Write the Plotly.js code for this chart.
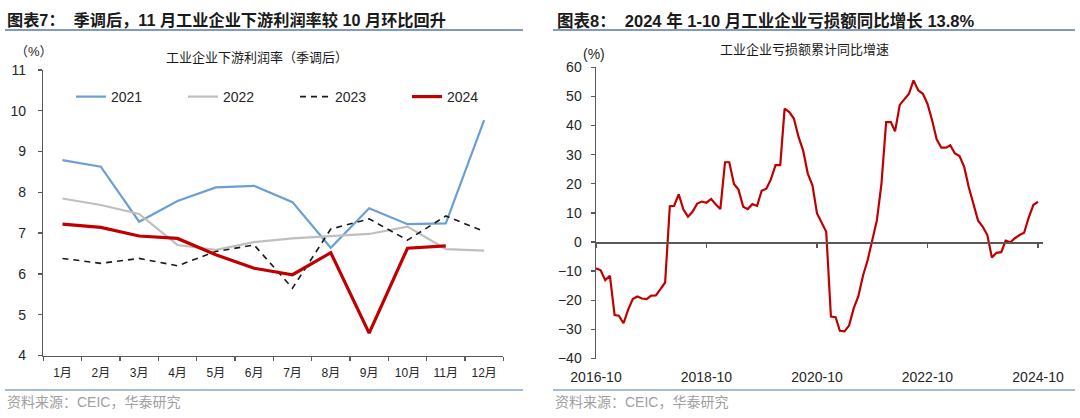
<!DOCTYPE html>
<html><head><meta charset="utf-8">
<script src="https://cdn.plot.ly/plotly-3.0.1.min.js"></script>
<style>html,body{margin:0;padding:0;background:#fff;}#chart{width:1080px;height:418px;}</style>
</head><body><div id="chart"></div>
<script>
// ---- Left chart data: downstream profit margin (seasonally adjusted), %
const months = ['1月','2月','3月','4月','5月','6月','7月','8月','9月','10月','11月','12月'];
const y2021 = [8.79, 8.63, 7.28, 7.79, 8.12, 8.16, 7.76, 6.64, 7.61, 7.22, 7.24, 9.77];
const y2022 = [7.85, 7.69, 7.47, 6.71, 6.59, 6.78, 6.87, 6.92, 6.98, 7.16, 6.61, 6.57];
const y2023 = [6.38, 6.26, 6.38, 6.20, 6.55, 6.71, 5.65, 7.10, 7.35, 6.83, 7.42, 7.04];
const y2024 = [7.22, 7.14, 6.93, 6.87, 6.47, 6.14, 5.98, 6.52, 4.55, 6.63, 6.69];
const seriesNames = ['2021','2022','2023','2024'];

// ---- Right chart data: cumulative YoY growth of industrial losses, %, monthly from 2016-10
const lossStartYear = 2016, lossStartMonth = 10;
const lossGrowth = [
  -9.0, -9.7, -13.1, -11.6, -25.1, -25.3, -27.9, -23.3, -19.6, -18.7, -19.4, -19.6,
  -18.4, -18.3, -16.2, -13.9, 12.3, 12.4, 16.4, 11.2, 8.7, 10.4, 13.2, 13.9,
  13.5, 14.8, 13.0, 11.3, 27.4, 27.4, 19.9, 18.0, 12.1, 11.3, 13.0, 12.4,
  17.6, 18.3, 21.5, 26.4, 26.4, 45.8, 44.6, 42.4, 36.1, 31.5, 23.5, 19.5,
  9.8, 6.4, 3.5, -25.6, -25.8, -30.5, -30.7, -28.7, -22.7, -18.7, -11.6, -6.2,
  0.1, 7.5, 20.0, 41.2, 41.2, 38.0, 47.1, 48.9, 50.9, 55.5, 52.1, 50.9,
  47.5, 41.8, 35.3, 32.4, 32.4, 33.2, 30.4, 29.5, 25.8, 18.9, 13.2, 7.3,
  5.3, 2.4, -5.3, -3.7, -3.5, 0.5, -0.1, 1.3, 2.4, 3.2, 8.5, 12.8,
  13.8
];
const lossTickVals = ['2016-10-01','2018-10-01','2020-10-01','2022-10-01','2024-10-01'];
const lossTickText = ['2016-10','2018-10','2020-10','2022-10','2024-10'];

const lossDates = lossGrowth.map((_, i) => {
  const t = lossStartYear * 12 + (lossStartMonth - 1) + i;
  const y = Math.floor(t / 12), m = t % 12 + 1;
  return y + '-' + String(m).padStart(2, '0') + '-01';
});

// ---- layout helpers (pixel -> paper)
const W = 1080, H = 418;
const px = x => x / W;
const py = y => 1 - y / H;
const FONT = 'Liberation Sans, Arial, Noto Sans CJK SC, sans-serif';
const TXT = '#262626';
const AX = '#595959';

const leftDomX = [px(43.3), px(503.3)];
const leftDomY = [py(355.5), py(70)];
const rightDomX = [px(596), px(1042.7)];
const rightDomY = [py(358.5), py(67.3)];
const rightYRange = [-40, 60];
const zeroPos = rightDomY[0] + (0 - rightYRange[0]) / (rightYRange[1] - rightYRange[0]) * (rightDomY[1] - rightDomY[0]);

const traces = [
  {x: months, y: y2021, name: seriesNames[0], type: 'scatter', mode: 'lines',
   line: {color: '#6b9fd3', width: 2.2}, xaxis: 'x', yaxis: 'y'},
  {x: months, y: y2022, name: seriesNames[1], type: 'scatter', mode: 'lines',
   line: {color: '#bfbfbf', width: 2.2}, xaxis: 'x', yaxis: 'y'},
  {x: months, y: y2023, name: seriesNames[2], type: 'scatter', mode: 'lines',
   line: {color: '#1a1a1a', width: 1.6, dash: '6px,5px'}, xaxis: 'x', yaxis: 'y'},
  {x: months.slice(0, y2024.length), y: y2024, name: seriesNames[3], type: 'scatter', mode: 'lines',
   line: {color: '#c00000', width: 3.2}, xaxis: 'x', yaxis: 'y'},
  {x: lossDates, y: lossGrowth, name: '亏损额累计同比', type: 'scatter', mode: 'lines',
   line: {color: '#c00000', width: 2.2}, xaxis: 'x2', yaxis: 'y2', showlegend: false},
  {x: [], y: [], type: 'scatter', mode: 'lines', xaxis: 'x3', yaxis: 'y2',
   showlegend: false, hoverinfo: 'skip'}
];

const ann = (text, x, y, opts) => Object.assign({
  text: text, x: px(x), y: py(y), xref: 'paper', yref: 'paper',
  showarrow: false, xanchor: 'left', yanchor: 'middle',
  font: {family: FONT, size: 13, color: TXT}
}, opts || {});

const layout = {
  width: W, height: H,
  margin: {l: 0, r: 0, t: 0, b: 0},
  paper_bgcolor: '#ffffff', plot_bgcolor: 'rgba(0,0,0,0)',
  font: {family: FONT, size: 14, color: TXT},
  showlegend: true,
  legend: {orientation: 'h', x: px(71), xanchor: 'left', y: py(97), yanchor: 'middle',
           bgcolor: 'rgba(0,0,0,0)', entrywidth: 67, entrywidthmode: 'pixels',
           font: {family: FONT, size: 14, color: TXT}, traceorder: 'normal'},
  xaxis: {domain: leftDomX, anchor: 'y', type: 'category', range: [-0.5, 11.5],
          showline: true, linecolor: AX, linewidth: 1.5, ticks: 'outside', tickson: 'boundaries',
          ticklen: 4, tickcolor: AX, tickwidth: 1.3, showgrid: false, zeroline: false,
          tickfont: {family: FONT, size: 12, color: TXT}, ticklabelstandoff: 6, fixedrange: true},
  yaxis: {domain: leftDomY, anchor: 'x', range: [4, 11], dtick: 1, tick0: 4,
          showline: true, linecolor: AX, linewidth: 1.5, ticks: 'outside', ticklen: 4,
          tickcolor: AX, tickwidth: 1.3, showgrid: false, zeroline: false,
          tickfont: {family: FONT, size: 14, color: TXT}, ticklabelstandoff: 9, fixedrange: true},
  xaxis2: {domain: rightDomX, anchor: 'y2', type: 'date', range: ['2016-10-01', '2024-11-01'],
           tickvals: lossTickVals, ticktext: lossTickText, showline: false, ticks: '',
           showgrid: false, zeroline: false, tickfont: {family: FONT, size: 14, color: TXT},
           ticklabelstandoff: 8, fixedrange: true},
  xaxis3: {overlaying: 'x2', anchor: 'free', position: zeroPos, type: 'date',
           range: ['2016-10-01', '2024-11-01'], tickvals: lossTickVals, showticklabels: false,
           showline: true, linecolor: AX, linewidth: 1.5, ticks: 'outside', ticklen: 4,
           tickcolor: AX, tickwidth: 1.3, showgrid: false, zeroline: false, fixedrange: true},
  yaxis2: {domain: rightDomY, anchor: 'x2', range: rightYRange, dtick: 10, tick0: -40,
           showline: true, linecolor: AX, linewidth: 1.5, ticks: 'outside', ticklen: 4,
           tickcolor: AX, tickwidth: 1.3, showgrid: false, zeroline: false,
           tickfont: {family: FONT, size: 14, color: TXT}, ticklabelstandoff: 6, fixedrange: true},
  shapes: [
    {type: 'line', xref: 'paper', yref: 'paper', x0: px(5), x1: px(523), y0: py(30), y1: py(30),
     line: {color: '#7f9cc0', width: 1.8}},
    {type: 'line', xref: 'paper', yref: 'paper', x0: px(553), x1: px(1075), y0: py(30), y1: py(30),
     line: {color: '#7f9cc0', width: 1.8}},
    {type: 'line', xref: 'paper', yref: 'paper', x0: px(5), x1: px(523), y0: py(390), y1: py(390),
     line: {color: '#8aa4c4', width: 1.3}},
    {type: 'line', xref: 'paper', yref: 'paper', x0: px(553), x1: px(1075), y0: py(390), y1: py(390),
     line: {color: '#8aa4c4', width: 1.3}}
  ],
  annotations: [
    ann('<b>图表7：  季调后，11 月工业企业下游利润率较 10 月环比回升</b>', 5, 20,
        {font: {family: FONT, size: 16.2, color: '#1a1a1a'}}),
    ann('<b>图表8：  2024 年 1-10 月工业企业亏损额同比增长 13.8%</b>', 555, 20,
        {font: {family: FONT, size: 16.5, color: '#1a1a1a'}}),
    ann('工业企业下游利润率（季调后）', 257, 58, {xanchor: 'center', font: {family: FONT, size: 13, color: '#1a1a1a'}}),
    ann('工业企业亏损额累计同比增速', 804, 50, {xanchor: 'center', font: {family: FONT, size: 13, color: '#1a1a1a'}}),
    ann('（%）', 34, 51, {xanchor: 'center', font: {family: FONT, size: 13, color: TXT}}),
    ann('(%)', 594, 54, {xanchor: 'center', font: {family: FONT, size: 14, color: TXT}}),
    ann('资料来源：CEIC，华泰研究', 5, 402, {font: {family: FONT, size: 14, color: '#a0a0a0'}}),
    ann('资料来源：CEIC，华泰研究', 553, 402, {font: {family: FONT, size: 14, color: '#a0a0a0'}})
  ]
};

Plotly.newPlot('chart', traces, layout, {displayModeBar: false, staticPlot: true});
</script>
</body></html>
